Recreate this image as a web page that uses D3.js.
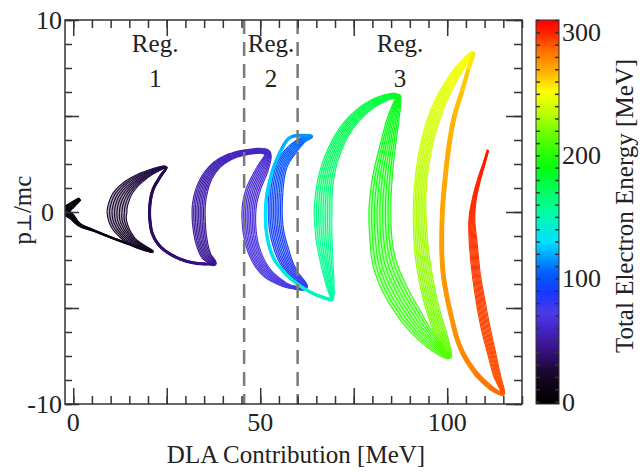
<!DOCTYPE html>
<html>
<head>
<meta charset="utf-8">
<script src="https://cdn.jsdelivr.net/npm/d3@7"></script>
<style>
  body { margin: 0; background: #fff; }
  text { font-family: "Liberation Serif", "Times New Roman", serif; fill: #222; }
</style>
</head>
<body>
<svg id="chart" width="640" height="472"></svg>
<script>
// electron trajectory in (DLA contribution, p_perp) space.
// centre line of the bundle, its half spread (MeV) and total energy (MeV)
var dla = [
  1.8, -0.3, -2.0, -0.3, 1.8, 5.8, 10.4, 14.1,                    // start
  21.3, 16.0, 12.5, 11.7, 12.8, 15.7, 20.3, 24.8,                 // dark crescent
  23.2, 21.3, 20.5, 20.5, 21.3, 23.7, 28.0, 32.5, 36.6,           // thin purple
  37.7, 35.5, 34.2, 33.6, 33.6, 34.4, 36.0, 38.7, 42.5, 46.7, 50.5, // purple C
  52.1, 50.5, 48.1, 47.0, 47.3, 48.9, 51.6, 55.3, 58.5,           // violet
  62.1, 58.5, 55.9, 54.2, 54.2, 55.6, 58.5, 61.4, 63.6,           // blue
  58.3, 55.6, 53.2, 51.6, 51.6, 53.2, 56.1, 59.6, 63.9, 68.2,     // cyan
  69.2, 68.7, 67.9, 67.1, 66.8, 67.3, 68.9, 71.9, 75.6, 79.9, 84.2, 86.6,   // green up
  86.8, 85.5, 83.9, 82.6, 82.0, 82.3, 83.4, 86.1, 90.1, 94.1, 98.1, 100.5,  // green down
  99.9, 98.1, 96.2, 94.6, 93.3, 92.7, 92.7, 93.5, 95.1, 97.3, 100.2, 103.4, 106.9, // yellow
  105.6, 103.9, 102.0, 100.7, 99.4, 98.6, 98.9, 101.5, 103.8, 107.4, 111.4, 114.1, // orange
  114.9, 113.3, 112.0, 110.4, 109.1, 107.8, 107.0, 106.6, 107.2, 108.5, 109.9, 110.9 // red
];
var pperp = [
  0.68, 0.36, 0.05, -0.26, -0.68, -0.99, -1.35, -1.61,
  -2.08, -1.56, -0.73, 0, 0.78, 1.46, 2.03, 2.34,
  1.82, 1.15, 0.36, -0.42, -1.20, -1.88, -2.40, -2.66, -2.71,
  -2.66, -2.24, -1.46, -0.52, 0.36, 1.15, 1.875, 2.5, 2.92, 3.125, 3.18,
  2.97, 2.19, 1.15, 0.10, -1.20, -2.29, -3.125, -3.65, -3.91,
  -3.91, -3.125, -2.08, -0.68, 1.04, 2.40, 3.23, 3.75, 3.96,
  3.91, 3.23, 2.08, 0.625, -0.94, -2.24, -3.07, -3.70, -4.22, -4.53,
  -4.48, -3.80, -2.76, -1.46, 0, 1.41, 2.71, 4.01, 4.95, 5.625, 5.99, 6.04,
  5.83, 4.79, 3.23, 1.67, 0.10, -1.46, -2.76, -4.06, -5.36, -6.41, -7.19, -7.55,
  -7.19, -6.25, -5.10, -3.80, -2.24, -0.68, 0.885, 2.45, 4.01, 5.31, 6.51, 7.5, 8.28,
  7.40, 6.25, 5.05, 3.75, 1.67, -0.57, -3.18, -5.78, -7.19, -8.33, -9.11, -9.43,
  -9.375, -8.49, -7.45, -6.15, -4.84, -3.28, -1.72, -0.42, 0.625, 1.67, 2.55, 3.23
];
var energy = [
  2, 3, 4, 5, 6, 8, 10, 12,
  16, 18, 20, 22, 24, 26, 28, 30,
  32, 33, 34, 35, 36, 38, 40, 42, 44,
  45, 46, 47, 48, 50, 51, 52, 54, 55, 57, 58,
  60, 61, 62, 64, 66, 68, 70, 72, 75,
  80, 84, 88, 92, 96, 100, 104, 108, 112,
  120, 123, 126, 129, 132, 135, 138, 142, 146, 150,
  152, 155, 158, 161, 164, 167, 170, 173, 176, 179, 182, 185,
  188, 190, 192, 194, 196, 198, 200, 202, 204, 206, 208, 210,
  215, 218, 221, 224, 227, 230, 233, 236, 239, 242, 246, 249, 252,
  262, 264, 266, 268, 270, 272, 274, 276, 278, 281, 284, 287,
  290, 291, 292, 293, 294, 295, 296, 297, 298, 299, 300, 301
];
var spread = [
  0.35, 0.8, 1.0, 0.7, 0.4, 0.2, 0.16, 0.2,
  0.16, 1.07, 2.14, 2.67, 2.4, 1.6, 0.8, 0.19,
  0.27, 0.27, 0.27, 0.27, 0.27, 0.27, 0.27, 0.27, 0.27,
  0.53, 1.34, 1.6, 1.74, 1.74, 1.6, 1.34, 1.07, 0.8, 0.67, 0.67,
  0.8, 1.6, 1.87, 1.87, 1.74, 1.6, 1.34, 0.8, 0.4,
  0.53, 1.34, 1.87, 1.87, 1.87, 1.6, 1.34, 0.8, 0.27,
  0.3, 0.3, 0.3, 0.3, 0.3, 0.3, 0.3, 0.3, 0.3, 0.3,
  0.4, 1.07, 1.6, 2.14, 2.4, 2.14, 1.87, 1.6, 1.34, 1.07, 0.8, 0.53,
  0.8, 1.6, 2.14, 2.67, 2.94, 2.94, 3.2, 3.2, 2.94, 2.14, 1.34, 0.4,
  1.07, 1.6, 1.74, 1.87, 1.87, 1.74, 1.6, 1.6, 1.6, 1.6, 1.34, 1.07, 0.4,
  0.4, 0.45, 0.5, 0.5, 0.5, 0.5, 0.5, 0.5, 0.5, 0.55, 0.55, 0.4,
  0.4, 0.94, 1.07, 1.2, 1.2, 1.07, 1.07, 0.8, 0.53, 0.4, 0.27, 0.19
];

// region borders and labels
var regionBorders = [45.7, 60];
var regionNames = ["1", "2", "3"];
var regionCentres = [21.9, 52.9, 87.4];

// axis ticks
var xMinor = d3.range(0, 121, 5), xMajor = [0, 25, 50, 75, 100], xLabels = [0, 50, 100];
var yMinor = d3.range(-10, 10.01, 1.25), yMajor = [-10, -5, 0, 5, 10], yLabels = [-10, 0, 10];
var cbLabels = [0, 100, 200, 300];

// colour table of the energy scale
var cmapE = [0, 25, 45, 60, 72, 88, 105, 130, 155, 190, 215, 235, 252, 268, 285, 300, 310];
var cmapC = ["#000000", "#1c0832", "#3a1490", "#4426cc", "#4c3ae8", "#1838ff", "#0060ff", "#00e0ff", "#00ffa0",
             "#00ff10", "#60ff00", "#c0ff00", "#ffff00", "#ffb000", "#ff7000", "#ff2000", "#ff0000"];

var svg = d3.select("#chart");
var x = d3.scaleLinear().domain([-2.2, 120]).range([65, 522]);
var y = d3.scaleLinear().domain([-10, 10]).range([404, 20]);
var color = d3.scaleLinear().domain(cmapE).range(cmapC).clamp(true);

svg.append("defs").append("clipPath").attr("id", "plotClip")
  .append("rect").attr("x", 65).attr("y", 20).attr("width", 457).attr("height", 384);

// --- trajectory: smooth the centre line, then draw a bundle of strands
var pts = dla.map(function(d, i) {
  return { px: x(d), py: y(pperp[i]), w: x(spread[i]) - x(0), e: energy[i] };
});
function cr(p0, p1, p2, p3, t) {
  var t2 = t * t, t3 = t2 * t;
  return 0.5 * (2 * p1 + (-p0 + p2) * t + (2 * p0 - 5 * p1 + 4 * p2 - p3) * t2 + (-p0 + 3 * p1 - 3 * p2 + p3) * t3);
}
var SUB = 8, n = pts.length, samples = [];
for (var i = 0; i < n - 1; i++) {
  var a = pts[Math.max(i - 1, 0)], b = pts[i], c = pts[i + 1], d = pts[Math.min(i + 2, n - 1)];
  for (var s = 0; s < SUB; s++) {
    var t = s / SUB;
    samples.push({ px: cr(a.px, b.px, c.px, d.px, t), py: cr(a.py, b.py, c.py, d.py, t),
                   w: b.w + (c.w - b.w) * t });
  }
}
samples.push({ px: pts[n - 1].px, py: pts[n - 1].py, w: pts[n - 1].w });
var lastN = [1, 0];
samples.forEach(function(sm, k) {
  var p = samples[Math.max(k - 1, 0)], q = samples[Math.min(k + 1, samples.length - 1)];
  var dx = q.px - p.px, dy = q.py - p.py, L = Math.hypot(dx, dy);
  if (L > 1e-6) lastN = [-dy / L, dx / L];
  sm.nx = lastN[0]; sm.ny = lastN[1];
});

var K = 9, offs = d3.range(K).map(function(k) { return -1 + 2 * k / (K - 1); });
var line = d3.line();
var traj = svg.append("g").attr("clip-path", "url(#plotClip)");
for (i = 0; i < n - 1; i++) {
  var seg = samples.slice(i * SUB, i * SUB + SUB + 1);
  var col = color((energy[i] + energy[i + 1]) / 2);
  var outer = seg.map(function(q) { return [q.px + q.nx * q.w, q.py + q.ny * q.w]; });
  var inner = seg.map(function(q) { return [q.px - q.nx * q.w, q.py - q.ny * q.w]; }).reverse();
  traj.append("path").attr("d", line(outer.concat(inner)) + "Z")
    .attr("fill", col).attr("fill-opacity", 0.35).attr("stroke", "none");
  traj.selectAll(null).data(offs).enter().append("path")
    .attr("d", function(o) { return line(seg.map(function(q) { return [q.px + q.nx * q.w * o, q.py + q.ny * q.w * o]; })); })
    .attr("fill", "none").attr("stroke", col).attr("stroke-width", 1.1);
}

// region borders
svg.selectAll(".border").data(regionBorders).enter().append("line")
  .attr("x1", function(d) { return x(d); }).attr("x2", function(d) { return x(d); })
  .attr("y1", y(10)).attr("y2", y(-10))
  .attr("stroke", "#7a7a7a").attr("stroke-width", 2.5).attr("stroke-dasharray", "14,8");

svg.selectAll(".regA").data(regionCentres).enter().append("text")
  .attr("x", function(d) { return x(d); }).attr("y", 52)
  .attr("text-anchor", "middle").attr("font-size", 25).text("Reg.");
svg.selectAll(".regB").data(regionCentres).enter().append("text")
  .attr("x", function(d) { return x(d); }).attr("y", 87)
  .attr("text-anchor", "middle").attr("font-size", 25)
  .text(function(d, i) { return regionNames[i]; });

// --- axes, ticks inside on all four sides
function styleAxis(g) {
  g.selectAll("line").attr("stroke", "#333").attr("stroke-width", 1.5);
  g.select(".domain").remove();
}
var none = function() { return ""; };
[[d3.axisBottom(x), y(-10), xMinor, 8], [d3.axisBottom(x), y(-10), xMajor, 16],
 [d3.axisTop(x), y(10), xMinor, 8], [d3.axisTop(x), y(10), xMajor, 16]].forEach(function(a) {
  svg.append("g").attr("transform", "translate(0," + a[1] + ")")
    .call(a[0].tickValues(a[2]).tickSize(-a[3]).tickFormat(none)).call(styleAxis);
});
[[d3.axisLeft(y), x(-2.2), yMinor, 7], [d3.axisLeft(y), x(-2.2), yMajor, 14],
 [d3.axisRight(y), x(120), yMinor, 8], [d3.axisRight(y), x(120), yMajor, 16]].forEach(function(a) {
  svg.append("g").attr("transform", "translate(" + a[1] + ",0)")
    .call(a[0].tickValues(a[2]).tickSize(-a[3]).tickFormat(none)).call(styleAxis);
});
svg.append("rect").attr("x", 65).attr("y", 20).attr("width", 457).attr("height", 384)
  .attr("fill", "none").attr("stroke", "#333").attr("stroke-width", 1.5);

svg.selectAll(".xl").data(xLabels).enter().append("text")
  .attr("x", function(d) { return x(d); }).attr("y", 431)
  .attr("text-anchor", "middle").attr("font-size", 26).text(function(d) { return d; });
svg.selectAll(".yl").data(yLabels).enter().append("text")
  .attr("x", function(d) { return d === 0 ? 54 : 62; }).attr("y", function(d) { return y(d) + 9; })
  .attr("text-anchor", "end").attr("font-size", 26).text(function(d) { return d; });

svg.append("text").attr("x", 296).attr("y", 463).attr("text-anchor", "middle")
  .attr("font-size", 25).text("DLA Contribution [MeV]");
var yl = svg.append("text").attr("transform", "translate(31,210) rotate(-90)").attr("text-anchor", "middle")
  .attr("font-size", 25);
yl.append("tspan").text("p");
yl.append("tspan").style("font-family", "'DejaVu Serif', serif").attr("font-size", 20).text("\u22a5");
yl.append("tspan").text("/mc");

// --- colour bar
var cb = d3.scaleLinear().domain([-2, 310]).range([404, 20]);
var grad = svg.select("defs").append("linearGradient").attr("id", "cbGrad")
  .attr("x1", 0).attr("y1", 1).attr("x2", 0).attr("y2", 0);
grad.selectAll("stop").data(cmapE).enter().append("stop")
  .attr("offset", function(d) { return (d + 2) / 312; })
  .attr("stop-color", function(d, i) { return cmapC[i]; });
svg.append("rect").attr("x", 536).attr("y", 20).attr("width", 23).attr("height", 384)
  .attr("fill", "url(#cbGrad)").attr("stroke", "#333").attr("stroke-width", 1);
var cbTicks = d3.range(0, 311, 10);
svg.append("g").attr("transform", "translate(536,0)")
  .call(d3.axisRight(cb).tickValues(cbTicks).tickSize(4).tickFormat(none)).call(styleAxis);
svg.append("g").attr("transform", "translate(559,0)")
  .call(d3.axisLeft(cb).tickValues(cbTicks).tickSize(4).tickFormat(none)).call(styleAxis);
svg.selectAll(".cbl").data(cbLabels).enter().append("text")
  .attr("x", 562).attr("y", function(d) { return cb(d) + 9; })
  .attr("font-size", 26).text(function(d) { return d; });
svg.append("text").attr("transform", "translate(633,206) rotate(-90)").attr("text-anchor", "middle")
  .attr("font-size", 25).text("Total Electron Energy [MeV]");
</script>
</body>
</html>
